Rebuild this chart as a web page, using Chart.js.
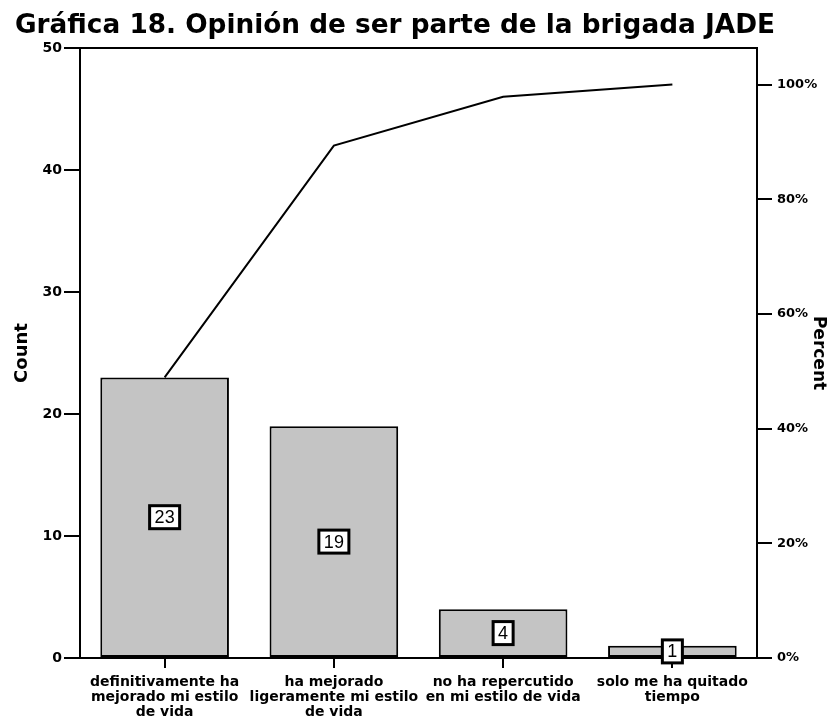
<!DOCTYPE html>
<html><head><meta charset="utf-8">
<script src="https://cdn.jsdelivr.net/npm/chart.js@4"></script>
<style>html,body{margin:0;padding:0;background:#fff}</style>
</head><body>
<canvas id="c" width="829" height="725"></canvas>
<script>
const categories = [
  ["definitivamente ha","mejorado mi estilo","de vida"],
  ["ha mejorado","ligeramente mi estilo","de vida"],
  ["no ha repercutido","en mi estilo de vida"],
  ["solo me ha quitado","tiempo"]
];
const counts = [23, 19, 4, 1];
const countTicks = [0, 10, 20, 30, 40, 50];
const percentTicks = [0, 20, 40, 60, 80, 100];
const titleText = "Gráfica 18. Opinión de ser parte de la brigada JADE";

const total = counts.reduce((a, b) => a + b, 0);
let run = 0;
const cumPercent = counts.map(v => { run += v; return run / total * 100; });
const countMax = countTicks[countTicks.length - 1];
const percentMax = countMax / total * 100;

const FONT = "'DejaVu Sans', 'Liberation Sans', Arial, sans-serif";

const titlePlugin = {
  id: 'bigTitle',
  afterDraw(chart) {
    const {ctx} = chart;
    ctx.save();
    ctx.font = "bold 26px " + FONT;
    ctx.fillStyle = '#000';
    ctx.textBaseline = 'alphabetic';
    ctx.textAlign = 'left';
    const w = ctx.measureText(titleText).width;
    const target = 760;
    ctx.translate(15, 33);
    ctx.scale(target / w, 1);
    ctx.fillText(titleText, 0, 0);
    ctx.restore();
  }
};

const framePlugin = {
  id: 'frame',
  afterDraw(chart) {
    const {ctx, chartArea: a} = chart;
    ctx.save();
    ctx.strokeStyle = '#000';
    ctx.lineWidth = 2;
    ctx.beginPath();
    ctx.moveTo(a.left - 1, a.top);
    ctx.lineTo(a.right + 1, a.top);
    ctx.stroke();
    ctx.restore();
  }
};

const labelPlugin = {
  id: 'barLabels',
  afterDatasetsDraw(chart) {
    const {ctx} = chart;
    const meta = chart.getDatasetMeta(0);
    ctx.save();
    ctx.font = "18px 'Liberation Sans', Arial, sans-serif";
    ctx.textAlign = 'center';
    ctx.textBaseline = 'middle';
    meta.data.forEach((bar, i) => {
      const txt = String(counts[i]);
      const cy = (bar.y + bar.base) / 2;
      const w = ctx.measureText(txt).width + 10;
      const h = 23;
      ctx.fillStyle = '#fff';
      ctx.fillRect(bar.x - w / 2, cy - h / 2, w, h);
      ctx.strokeStyle = '#000';
      ctx.lineWidth = 3;
      ctx.strokeRect(bar.x - w / 2, cy - h / 2, w, h);
      ctx.fillStyle = '#000';
      ctx.fillText(txt, bar.x, cy + 1);
    });
    ctx.restore();
  }
};

new Chart(document.getElementById('c'), {
  data: {
    labels: categories,
    datasets: [
      {
        type: 'bar',
        data: counts,
        yAxisID: 'y',
        backgroundColor: '#c4c4c4',
        borderColor: '#000',
        borderWidth: 2,
        borderSkipped: false,
        barPercentage: 0.76,
        categoryPercentage: 1.0,
        order: 2
      },
      {
        type: 'line',
        data: cumPercent,
        yAxisID: 'y2',
        borderColor: '#000',
        borderWidth: 2,
        pointRadius: 0,
        tension: 0,
        fill: false,
        order: 1
      }
    ]
  },
  options: {
    responsive: false,
    animation: false,
    devicePixelRatio: 1,
    layout: {padding: {left: 0, right: 0, top: 48, bottom: 0}},
    plugins: {
      legend: {display: false},
      tooltip: {enabled: false},
      title: {display: false}
    },
    scales: {
      x: {
        offset: true,
        afterFit: s => { s.height = 67; },
        grid: {display: true, drawOnChartArea: false, drawTicks: true, tickLength: 10, offset: false, color: '#000', lineWidth: 2},
        border: {display: true, color: '#000', width: 2},
        ticks: {color: '#000', font: {family: FONT, size: 14, weight: 'bold', lineHeight: 1.08}, maxRotation: 0, autoSkip: false, padding: 7}
      },
      y: {
        position: 'left',
        min: 0,
        max: countMax,
        afterFit: s => { s.width = 80; },
        afterBuildTicks: s => { s.ticks = countTicks.map(v => ({value: v})); },
        grid: {display: true, drawOnChartArea: false, drawTicks: true, tickLength: 16, color: '#000', lineWidth: 2},
        border: {display: true, color: '#000', width: 2},
        ticks: {color: '#000', font: {family: FONT, size: 14, weight: 'bold'}, padding: 2},
        title: {display: true, text: 'Count', color: '#000', font: {family: FONT, size: 18, weight: 'bold'}, padding: {top: 12, bottom: 0}}
      },
      y2: {
        position: 'right',
        min: 0,
        max: percentMax,
        afterFit: s => { s.width = 72; },
        afterBuildTicks: s => { s.ticks = percentTicks.map(v => ({value: v})); },
        grid: {display: true, drawOnChartArea: false, drawTicks: true, tickLength: 15, color: '#000', lineWidth: 2},
        border: {display: true, color: '#000', width: 2},
        ticks: {color: '#000', font: {family: FONT, size: 13, weight: 'bold'}, padding: 5, callback: v => v + '%'},
        title: {display: true, text: 'Percent', color: '#000', font: {family: FONT, size: 17, weight: 'bold'}, padding: {top: 0, bottom: 0}}
      }
    }
  },
  plugins: [titlePlugin, framePlugin, labelPlugin]
});
</script>
</body></html>
